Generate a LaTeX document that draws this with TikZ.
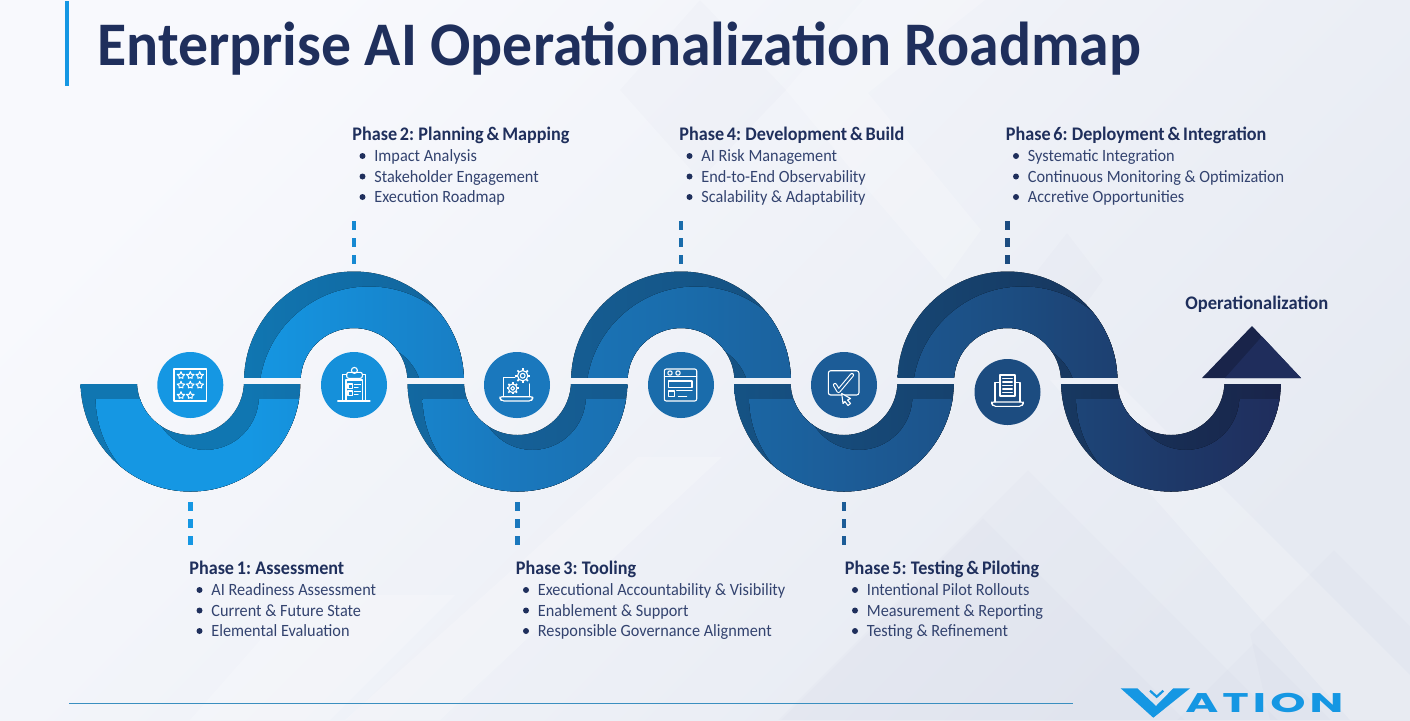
\documentclass[tikz,border=0pt]{standalone}
\usepackage{fontspec}
\usepackage{graphicx}
\setmainfont{Carlito}
\newfontfamily\headfont{Carlito}[WordSpace=.7]
\newfontfamily\logofont{Poppins}[LetterSpace=9]
\definecolor{ink}{HTML}{1F2F5C}
\definecolor{sub}{HTML}{33436F}
\definecolor{L0}{HTML}{1597E3}\definecolor{L1}{HTML}{1689D2}\definecolor{L2}{HTML}{1A78BD}
\definecolor{L3}{HTML}{1A6CAB}\definecolor{L4}{HTML}{1C5C97}\definecolor{L5}{HTML}{1C4C80}
\definecolor{L6}{HTML}{1E3A6A}\definecolor{L7}{HTML}{1F2D5C}
\colorlet{D0}{L0!78!black}\colorlet{D1}{L1!78!black}\colorlet{D2}{L2!80!black}\colorlet{D3}{L3!80!black}
\colorlet{D4}{L4!80!black}\colorlet{D5}{L5!80!black}\colorlet{D6}{L6!80!black}\colorlet{D7}{L7!80!black}
\pgfdeclarehorizontalshading{lightband}{100bp}{
 color(0bp)=(L0);color(32bp)=(L0);color(37bp)=(L1);color(43bp)=(L2);color(50bp)=(L3);
 color(57bp)=(L4);color(64bp)=(L5);color(70bp)=(L6);color(75bp)=(L7);color(100bp)=(L7)}
\pgfdeclarehorizontalshading{darkband}{100bp}{
 color(0bp)=(D0);color(32bp)=(D0);color(37bp)=(D1);color(43bp)=(D2);color(50bp)=(D3);
 color(57bp)=(D4);color(64bp)=(D5);color(70bp)=(D6);color(75bp)=(D7);color(100bp)=(D7)}
\definecolor{bgA}{HTML}{F8F9FD}\definecolor{bgB}{HTML}{E6EAF2}
\tikzset{
 headtxt/.style={anchor=base west,inner sep=0pt,font=\fontsize{9.6pt}{11pt}\headfont\bfseries,text=ink},
 itemtxt/.style={anchor=base west,inner sep=0pt,font=\fontsize{8.6pt}{10pt}\selectfont,text=sub},
 bulletdot/.style={circle,fill=ink,inner sep=0pt,minimum size=3pt},
 tickline/.style={line width=2.35pt,dash pattern=on 4.5pt off 4pt},
 badge/.style={circle,inner sep=0pt,minimum size=33pt},
 icn/.style={draw=white,line width=.55pt,line join=round,line cap=round},
 lightdia/.style={fill=white,opacity=.2},
 darkdia/.style={fill=ink,opacity=.01},
}
\newcommand{\bandparts}[4]{%
 \begin{scope}[even odd rule]
  \clip (0,#2) rectangle (1410,#3);
  \clip (#1,381.5) circle[radius=55pt] (#1,381.5) circle[radius=26.75pt];
  \fill[shading=darkband] (80,200) rectangle (1282,520);
  \clip (0,#4) rectangle (1410,#3);
  \clip (#1+15,396.5) circle[radius=55pt] (#1+15,396.5) circle[radius=26.75pt];
  \fill[shading=lightband] (80,200) rectangle (1282,520);
 \end{scope}}
\newcommand{\phaseblock}[7]{%
 \node[headtxt] (#1h) at (#2,#3+.7) {\scalebox{.945}[1]{#4}};
 \node[itemtxt] (#1a) at (#2+22,#3+21.7) {\scalebox{.945}[1]{#5}};
 \node[itemtxt] (#1b) at (#2+22,#3+42.3) {\scalebox{.945}[1]{#6}};
 \node[itemtxt] (#1c) at (#2+22,#3+62.8) {\scalebox{.945}[1]{#7}};
 \node[bulletdot] (#1d) at (#2+10.5,#3+16) {};
 \node[bulletdot] (#1e) at (#2+10.5,#3+36.5) {};
 \node[bulletdot] (#1f) at (#2+10.5,#3+57) {};
}
\newcommand{\istar}[2]{\draw[icn,line width=.5pt] (#1,#2) +(270:4) -- +(306:1.8) -- +(342:4) -- +(18:1.9) -- +(54:3.2) -- +(90:1.9) -- +(126:3.2) -- +(162:1.9) -- +(198:4) -- +(234:1.8) -- cycle;}
\newcommand{\igear}[4]{%
 \fill[#4] (#1,#2) circle[radius=#3/2*1.1pt];
 \foreach \a in {0,45,...,315} \draw[icn,line width=.85pt,line cap=butt] (#1,#2) ++(\a:#3*.72) -- ++(\a:#3*.34);
 \draw[icn,fill=#4] (#1,#2) circle[radius=#3*.37pt];
 \draw[icn] (#1,#2) circle[radius=#3*.17pt];}
\newcommand{\tickpair}[5]{%
 \coordinate (#1s) at (#2,#3);
 \coordinate (#1e) at (#2,#4);
 \draw[tickline,draw=#5] (#1s) -- (#1e);}
\begin{document}
\begin{tikzpicture}[x=.5pt,y=-.5pt]
\useasboundingbox (0,0) rectangle (1410,720);
\begin{scope}
\clip (0,0) rectangle (1410,720);
\shade[bottom color=bgB,top color=bgA,shading angle=45] (0,0) rectangle (1410,720);
% background facets
\fill[lightdia] (863,0) -- (786,90) -- (868,190) -- (945,280) -- (981,230) -- (868,93) -- (985,0) -- cycle;
\fill[lightdia] (638,457) -- (722,457) -- (440,720) -- (345,720) -- cycle;
\fill[lightdia] (300,595) -- (455,595) -- (330,720) -- (190,720) -- cycle;
\fill[lightdia] (1050,380) -- (1115,380) -- (1410,675) -- (1410,720) -- (1350,720) -- cycle;
\fill[darkdia] (1028,470) -- (1278,720) -- (778,720) -- cycle;
\fill[darkdia] (983,518) -- (1185,720) -- (781,720) -- cycle;
\fill[darkdia] (1254,643) -- (1331,720) -- (1177,720) -- cycle;
\fill[darkdia] (1334,550) -- (1410,626) -- (1410,720) -- (1270,720) -- (1250,634) -- cycle;
\fill[darkdia] (1067,233) -- (1103,280) -- (1067,330) -- (1030,280) -- cycle;
\fill[darkdia] (700,0) -- (786,90) -- (700,180) -- (620,90) -- cycle;
\end{scope}
% title
\draw[line width=1.8pt,draw=L0] (67,1) -- (67,86);
\node[anchor=base west,inner sep=0pt,font=\fontsize{31pt}{36pt}\selectfont\bfseries,text=ink] (title) at (97,65.5) {\scalebox{.964}[1]{Enterprise AI Operationalization Roadmap}};
% bands
\bandparts{190.5}{384.3}{520}{399.5}
\bandparts{517.5}{384.3}{520}{399.5}
\bandparts{844}{384.3}{520}{399.5}
\bandparts{1171}{384.3}{520}{399.5}
\bandparts{354}{250}{377.7}{250}
\bandparts{681}{250}{377.7}{250}
\bandparts{1007.5}{250}{377.7}{250}
% arrow head
\fill[D7] (1202,378) -- (1252,326) -- (1301,378) -- cycle;
\fill[L7] (1225,378) -- (1262,336.5) -- (1301,378) -- cycle;
% ticks
\tickpair{ta}{190.5}{502}{545}{L0}
\tickpair{tb}{354}{221}{264}{L1}
\tickpair{tc}{517.5}{502}{545}{L2}
\tickpair{td}{681}{221}{264}{L3}
\tickpair{te}{844}{502}{545}{L4}
\tickpair{tf}{1007.5}{221}{264}{L5}
% text blocks
\phaseblock{pa}{189}{574}{Phase 1: Assessment}{AI Readiness Assessment}{Current \& Future State}{Elemental Evaluation}
\phaseblock{pb}{352}{140}{Phase 2: Planning \& Mapping}{Impact Analysis}{Stakeholder Engagement}{Execution Roadmap}
\phaseblock{pc}{515.5}{574}{Phase 3: Tooling}{Executional Accountability \& Visibility}{Enablement \& Support}{Responsible Governance Alignment}
\phaseblock{pd}{679}{140}{Phase 4: Development \& Build}{AI Risk Management}{End-to-End Observability}{Scalability \& Adaptability}
\phaseblock{pe}{844.5}{574}{Phase 5: Testing \& Piloting}{Intentional Pilot Rollouts}{Measurement \& Reporting}{Testing \& Refinement}
\phaseblock{pf}{1005.5}{140}{Phase 6: Deployment \& Integration}{Systematic Integration}{Continuous Monitoring \& Optimization}{Accretive Opportunities}
\node[headtxt] (opz) at (1185,309.5) {\scalebox{.966}[1]{Operationalization}};
% badges
\node[badge,fill=L0] (ba) at (190.3,385) {};
\node[badge,fill=L0!50!L1] (bb) at (354,385) {};
\node[badge,fill=L2] (bc) at (517,385) {};
\node[badge,fill=L3] (bd) at (681,385) {};
\node[badge,fill=L4] (be) at (844,385) {};
\node[badge,fill=L5] (bf) at (1007.5,392) {};
% icon 1
\draw[icn,line cap=butt] (174,369) rectangle (206.7,401);
\foreach \px/\py in {181/375.7,190.3/375.7,199.7/375.7,181/385.3,190.3/385.3,199.7/385.3,181/395.7,190.3/395.7} {\istar{\px}{\py}}
% icon 2
\draw[icn] (337.7,401) -- (370,401);
\draw[icn] (342.7,401) -- (342.7,374.3) -- (346.7,374.3);
\draw[icn] (365.7,401) -- (365.7,374.3) -- (362.3,374.3);
\draw[icn] (346,401) -- (346,380) -- (362.7,380) -- (362.7,401);
\draw[icn,rounded corners=1pt] (346.7,378.3) -- (346.7,372.3) -- (362.3,372.3) -- (362.3,378.3) -- cycle;
\draw[icn] (354.4,370.4) circle[radius=1.5pt];
\draw[icn] (348,384) rectangle (352.5,388.5);
\draw[icn] (348,391) rectangle (352.5,395.5);
\draw[icn] (354.5,384.5) -- (360.5,384.5) (354.5,387.5) -- (358,387.5) (354.5,391.5) -- (360.5,391.5) (354.5,394.5) -- (358,394.5);
% icon 3
\draw[icn] (503.3,396.7) -- (503.3,377.3) -- (516,377.3) (529.3,384) -- (529.3,396.7);
\draw[icn,rounded corners=1pt] (500,396.7) -- (532.7,396.7) -- (532.7,399) -- (531,401) -- (502,401) -- (500,399) -- cycle;
\igear{522.7}{375.7}{7}{L2}
\igear{512.7}{388.3}{5.8}{L2}
% icon 4
\draw[icn,rounded corners=1pt] (664.3,369) rectangle (696.7,401);
\draw[icn] (664.3,376.7) -- (696.7,376.7);
\draw[icn] (670,373) circle[radius=1.1pt] (678,373) circle[radius=1.1pt];
\draw[icn] (668.7,381) rectangle (692,387.3);
\draw[icn] (668.7,391) rectangle (674.7,396.7);
\draw[icn] (676.7,390.7) -- (692,390.7) (678.3,396.7) -- (686.7,396.7);
% icon 5
\draw[icn,rounded corners=1.2pt] (828.3,370.7) rectangle (859,395);
\draw[draw=white,line width=2.1pt,line join=round,line cap=round] (835,385) -- (838.5,391) -- (852,375);
\draw[draw=L4,line width=1pt,line join=round,line cap=round] (835,385) -- (838.5,391) -- (852,375);
\draw[icn,fill=L4] (841.7,393.5) -- (850.5,398.5) -- (847.5,400) -- (850.5,403.5) -- (848,405.5) -- (845,401.5) -- (843,403.5) -- cycle;
% icon 6
\draw[icn] (1000,382.7) -- (995,382.7) -- (995,402) (1015,382.7) -- (1020,382.7) -- (1020,402);
\draw[icn,fill=L5] (1000,375) rectangle (1015,396);
\foreach \ly in {378.5,382,385.5,389,392.5} {\draw[icn] (1002.7,\ly) -- (1012.3,\ly);}
\draw[icn,rounded corners=1pt] (991.7,402) -- (1023.3,402) -- (1023.3,404) -- (1021.5,406.3) -- (993.5,406.3) -- (991.7,404) -- cycle;
% footer
\coordinate (fa) at (69,703.5);
\coordinate (fb) at (1073,703.5);
\draw[line width=.5pt,draw=L0!65!gray] (fa) -- (fb);
\fill[L0] (1120.7,688.3) -- (1137.3,688.3) -- (1156,706) -- (1173.3,688.3) -- (1190,688.3) -- (1153.3,717.7) -- cycle;
\draw[L0,line width=1.1pt] (1150,690.7) -- (1156.7,696.7) -- (1163.3,690.7);
\node[anchor=base west,inner sep=0pt,text=L0,font=\fontsize{13.5pt}{14pt}\logofont\bfseries] (logo) at (1185,712.7) {\scalebox{1.66}[1]{ATION}};
\end{tikzpicture}
\end{document}
